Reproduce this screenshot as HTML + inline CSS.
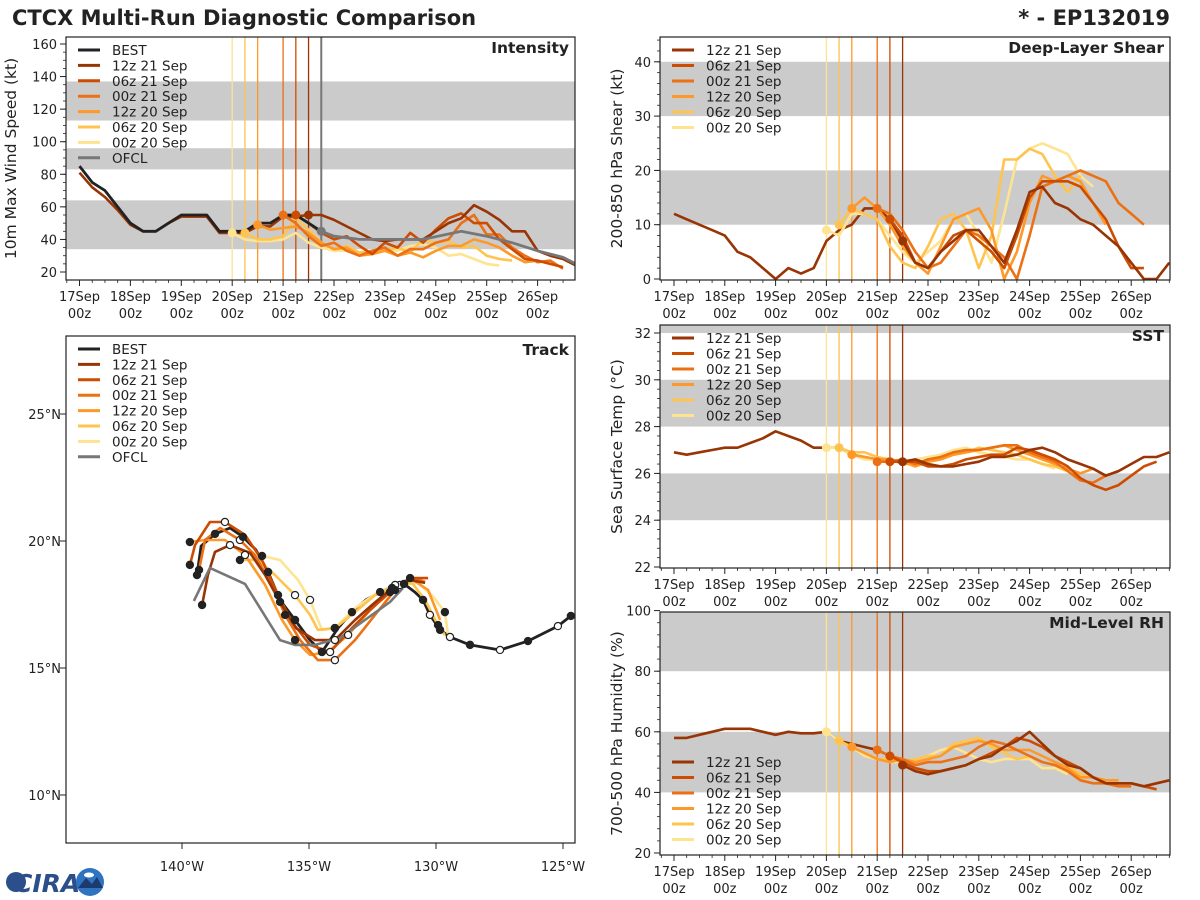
<!DOCTYPE html>
<html><head><meta charset="utf-8">
<style>
body{margin:0;background:#fff;width:1200px;height:900px;overflow:hidden;font-family:"Liberation Sans","DejaVu Sans",sans-serif;}
svg{position:absolute;left:0;top:0;}
text{font-family:"DejaVu Sans","Liberation Sans",sans-serif;fill:#222;}
</style></head>
<body>
<svg id="chart" width="1200" height="900" viewBox="0 0 1200 900"></svg>
<script>
// ---------- DATA ----------
const dayLabels=["17Sep","18Sep","19Sep","20Sep","21Sep","22Sep","23Sep","24Sep","25Sep","26Sep"];
const runNames=["12z 21 Sep","06z 21 Sep","00z 21 Sep","12z 20 Sep","06z 20 Sep","00z 20 Sep"];
const runColors=["#993404","#cc4c02","#ec7014","#fe9929","#fec44f","#fee391"];
const runStart=[18,17,16,14,13,12]; // 6-hourly index from 17Sep00z
const ofclIndex=19;
// Intensity (kt)
const bestVmax=[85,75,70,60,50,45,45,50,55,55,55,45,45,45,50,50,55,55,50,45];
const vmaxHist=[81,72,66,58,49,45,45,50,54,54,54,44,44,44,48,48,54,54,55];
const ofclVmaxIdx=[19,20,22,24,27,30,32,34,36,38,39];
const ofclVmax=[45,42,40,40,40,45,42,38,33,29,25];
const vmax12z21=[55,55,52,48,44,40,39,40,40,40,45,50,53,61,57,52,45,45,33,30,28,24];
const vmax06z21=[55,50,44,40,42,36,31,38,35,44,38,46,53,56,50,50,40,34,28,27,25,23];
const vmax00z21=[55,50,42,36,38,33,30,33,35,30,34,34,38,40,50,55,43,43,35,30,26,27,22];
const vmax12z20=[49,46,47,48,44,38,34,35,30,31,33,30,32,29,33,36,36,40,38,35,30,26,27,25];
const vmax06z20=[44,40,40,42,53,46,38,34,36,32,33,33,35,32,40,38,39,35,36,30,28,27];
const vmax00z20=[44,40,39,39,40,44,38,35,33,33,32,31,34,33,36,37,35,30,31,28,25,24];
// Shear (kt)
const shearHist=[12,11,10,9,8,5,4,2,0,2,1,2,7,9,10,13,13,11,7];
const shear12z21=[7,3,2,5,7,9,9,6,3,9,16,17,14,13,11,10,8,6,3,0,0,3];
const shear06z21=[11,8,3,2,5,8,9,7,5,2,8,15,18,18,18,17,14,11,6,2,2];
const shear00z21=[13,12,9,5,2,3,6,9,8,6,4,0,8,17,18,19,20,19,18,14,12,10];
const shear12z20=[13,15,13,10,6,3,1,6,11,12,13,9,0,5,14,19,18,19,18,14,10];
const shear06z20=[10,13,12,11,6,3,2,6,11,12,9,2,8,22,22,24,23,19,16,19];
const shear00z20=[9,8,12,12,11,8,5,3,5,7,11,12,8,3,12,22,24,25,24,23,19,17];
// SST (C)
const sstHist=[26.9,26.8,26.9,27.0,27.1,27.1,27.3,27.5,27.8,27.6,27.4,27.1,27.1,27.1,26.8,26.7,26.6,26.5,26.5];
const sst12z21=[26.5,26.6,26.4,26.3,26.3,26.4,26.5,26.7,26.7,26.8,27.0,27.1,26.9,26.6,26.4,26.2,25.9,26.1,26.4,26.7,26.7,26.9];
const sst06z21=[26.5,26.5,26.5,26.3,26.3,26.4,26.6,26.7,26.8,26.8,27.1,27.0,26.8,26.6,26.3,25.8,25.5,25.3,25.5,25.9,26.3,26.5];
const sst00z21=[26.5,26.5,26.6,26.4,26.6,26.7,26.9,27.0,27.0,27.1,27.2,27.2,26.9,26.7,26.5,26.1,25.7,25.6,25.9,26.1];
const sst12z20=[26.8,26.7,26.6,26.6,26.5,26.3,26.5,26.6,26.8,26.9,27.0,27.1,27.2,27.0,26.8,26.6,26.4,26.2,26.0,26.2];
const sst06z20=[27.1,26.9,26.9,26.7,26.6,26.4,26.4,26.5,26.6,26.8,26.9,27.1,27.0,26.9,26.8,26.6,26.4,26.3,26.1];
const sst00z20=[27.1,27.1,26.8,26.6,26.6,26.6,26.5,26.6,26.7,26.8,27.0,27.1,26.9,26.8,26.7,26.6,26.6,26.4,26.2];
// RH (%)
const rhHist=[58,58,59,60,61,61,61,60,59,60,59.5,59.5,60,57,56,55,54,52,49];
const rh12z21=[49,47,46,47,48,49,51,52,55,57,60,56,52,49,48,45,43,43,43,42,43,44];
const rh06z21=[52,50,48,47,47,48,49,51,53,55,58,57,55,52,50,48,45,43,43,43,42,41];
const rh00z21=[54,52,51,49,50,50,51,52,55,57,56,54,52,50,49,47,44,43,43,42,42];
const rh12z20=[55,53,51,50,51,50,51,52,55,56,57,56,54,54,54,52,50,48,45,45,44,44];
const rh06z20=[57,55,53,51,51,50,51,52,52,56,57,58,55,53,51,52,50,49,49,46,45];
const rh00z20=[60,57,55,52,51,50,50,51,52,54,55,53,51,50,51,51,51,48,48,46];
// Track (deg W, deg N)
const bestLon=[139.41,139.25,138.70,138.11,137.60,137.09,136.61,136.14,135.55,134.96,134.49,133.86,133.31,132.76,132.20,131.65,131.26,130.83,130.51,130.24,129.84,129.45,128.66,127.48,126.38,125.20,124.69];
const bestLat=[18.66,19.80,20.28,20.51,20.16,19.65,18.78,17.68,16.89,16.10,15.63,16.57,17.20,17.68,17.99,18.23,18.31,17.99,17.68,17.09,16.50,16.22,15.91,15.71,16.06,16.65,17.05];
const trk12z21Lon=[139.21,138.98,138.70,138.11,137.32,136.73,136.14,135.51,134.76,133.98,133.19,132.52,131.73,131.02,130.43];
const trk12z21Lat=[17.48,18.66,19.57,19.84,19.53,18.66,17.60,16.57,16.10,16.10,16.89,17.48,18.15,18.46,18.35];
const trk06z21Lon=[139.69,139.49,138.90,138.31,137.52,136.85,136.22,135.67,134.96,134.17,133.31,132.60,131.81,131.02,130.31];
const trk06z21Lat=[19.06,19.84,20.75,20.75,20.24,19.25,17.87,16.81,15.91,15.63,16.57,17.28,17.99,18.54,18.54];
const trk00z21Lon=[139.33,139.09,138.50,137.72,137.13,136.46,135.94,135.35,134.65,133.98,133.19,132.40,131.61,130.94,130.43];
const trk00z21Lat=[18.86,20.04,20.51,20.04,19.45,18.27,17.09,16.10,15.31,15.31,16.10,17.09,18.07,18.54,18.39];
const trk12z20Lon=[139.69,139.09,138.31,137.52,136.73,136.06,135.55,134.96,134.25,133.46,132.60,131.81,131.02,130.31,129.84];
const trk12z20Lat=[19.96,20.04,20.04,19.45,18.27,16.89,16.10,15.51,15.63,16.30,17.28,18.07,18.54,18.07,16.89];
const trk06z20Lon=[137.72,137.01,136.34,135.55,134.96,134.65,133.98,133.19,132.40,131.61,130.94,130.43,129.92,129.65];
const trk06z20Lat=[19.25,19.25,18.66,17.87,17.09,16.50,16.57,17.20,17.87,18.27,18.35,17.68,16.69,16.30];
const trk00z20Lon=[136.85,136.14,135.43,134.96,134.65,134.49,133.98,133.19,132.28,131.42,130.71,130.16,129.65,129.53];
const trk00z20Lat=[19.41,19.25,18.46,17.68,16.89,16.50,16.57,17.36,17.99,18.27,18.35,17.87,17.20,16.34];
const ofclLon=[139.53,138.90,137.52,136.14,135.55,134.76,133.78,132.80,131.81,131.30];
const ofclLat=[17.64,18.94,18.31,16.10,15.91,15.91,16.18,16.89,17.60,18.15];

// ---------- HELPERS ----------
const svg=document.getElementById('chart');
const NS='http://www.w3.org/2000/svg';
function mk(tag,attrs,parent){const e=document.createElementNS(NS,tag);for(const k in attrs)e.setAttribute(k,attrs[k]);(parent||svg).appendChild(e);return e;}
function txt(s,x,y,size,anchor,parent,weight){const t=mk('text',{x:x,y:y,'font-size':size,'text-anchor':anchor||'start','font-weight':weight||'normal'},parent);t.textContent=s;return t;}

function timePanel(cfg){
  const g=mk('g',{});
  
  
  const L=cfg.x0,R=cfg.x1,T=cfg.y0,B=cfg.y1;
  const xs=i=>cfg.tx0+i*cfg.dayW/4;
  const ys=v=>cfg.yRef-(v-cfg.vRef)*cfg.k;
  mk('rect',{x:L,y:T,width:R-L,height:B-T,fill:'#fff'},g);
  const cp='cp'+cfg.name;
  const cl=mk('clipPath',{id:cp},g);mk('rect',{x:L,y:T,width:R-L,height:B-T},cl);
  const inner=mk('g',{'clip-path':'url(#'+cp+')'},g);
  cfg.bands.forEach(b=>{const r=mk('rect',{x:L,y:ys(b[1]),width:R-L,height:ys(b[0])-ys(b[1]),fill:'#cbcbcb'},inner);
    
    });
  for(let r=5;r>=0;r--){const l=mk('line',{x1:xs(runStart[r]),x2:xs(runStart[r]),y1:T,y2:B,stroke:runColors[r],'stroke-width':1.3},inner);
    
    }
  if(cfg.ofclLine){const l=mk('line',{x1:xs(ofclIndex),x2:xs(ofclIndex),y1:T,y2:B,stroke:'#777','stroke-width':2},inner);
    
    }
  function poly(arr,start,color,name,w){const pts=arr.map((v,i)=>xs(start+i).toFixed(1)+','+ys(v).toFixed(1)).join(' ');
    const p=mk('polyline',{points:pts,fill:'none',stroke:color,'stroke-width':w||2.6,'stroke-linejoin':'round'},inner);
    
    return p;}
  if(cfg.hist) poly(cfg.hist,0,runColors[0],'history-line');
  for(let r=5;r>=0;r--){poly(cfg.series[r],runStart[r],runColors[r],'series-'+runNames[r].replace(/ /g,'-').toLowerCase());}
  if(cfg.best) poly(cfg.best,0,'#222','best-line',2.8);
  if(cfg.ofcl) {const pts=cfg.ofclIdx.map((t,i)=>xs(t).toFixed(1)+','+ys(cfg.ofcl[i]).toFixed(1)).join(' ');
    const p=mk('polyline',{points:pts,fill:'none',stroke:'#777','stroke-width':2.8},inner);
    
    
    const c=mk('circle',{cx:xs(cfg.ofclIdx[0]),cy:ys(cfg.ofcl[0]),r:4.5,fill:'#777'},inner);
    
    }
  for(let r=5;r>=0;r--){const c=mk('circle',{cx:xs(runStart[r]),cy:ys(cfg.series[r][0]),r:4.5,fill:runColors[r]},inner);
    
    }
  mk('rect',{x:L,y:T,width:R-L,height:B-T,fill:'none',stroke:'#222','stroke-width':1.2},g);
  for(let d=0;d<10;d++){const x=xs(d*4);mk('line',{x1:x,x2:x,y1:B,y2:B+6,stroke:'#222','stroke-width':1},g);
    const t1=txt(dayLabels[d],x,B+21,13,'middle',g);
    
    
    txt('00z',x,B+38,13,'middle',g);}
  for(let i=-1;i<40;i++){if(i%4===0)continue;const x=xs(i);if(x<L||x>R)continue;mk('line',{x1:x,x2:x,y1:B,y2:B+3,stroke:'#222','stroke-width':0.8},g);}
  cfg.yticks.forEach(v=>{const y=ys(v);mk('line',{x1:L-6,x2:L,y1:y,y2:y,stroke:'#222','stroke-width':1},g);
    const t=txt(String(v),L-9,y+5,13,'end',g);
    
    });
  for(let v=cfg.minorStart;v<=cfg.minorEnd;v+=cfg.minorStep){const y=ys(v);if(y<T||y>B)continue;mk('line',{x1:L-3,x2:L,y1:y,y2:y,stroke:'#222','stroke-width':0.8},g);}
  const yl=txt(cfg.ylabel,0,0,15.5,'middle',g);yl.setAttribute('transform','translate('+cfg.ylx+','+((T+B)/2)+') rotate(-90)');
  
  
  const ti=txt(cfg.title,R-6,T+16,15.5,'end',g,'bold');
  
  
  legend(g,L+12,cfg.legendY||(T+13),cfg.legendBest?['BEST'].concat(runNames,['OFCL']):runNames,cfg.legendBest?['#222'].concat(runColors,['#777']):runColors,cfg.lh);
}
function legend(g,x,y,names,colors,lh){
  const lg=mk('g',{},g);
  
  
  names.forEach((n,i)=>{const yy=y+i*lh;
    const e=mk('g',{},lg);
    
    
    mk('line',{x1:x,x2:x+22,y1:yy,y2:yy,stroke:colors[i],'stroke-width':3},e);
    txt(n,x+34,yy+5,13.5,'start',e);});
}
timePanel({name:'intensity-panel',x0:66,x1:575,y0:37,y1:280,tx0:79.5,dayW:50.9,yRef:272,vRef:20,k:1.6286,
  bands:[[34,64],[83,96],[113,137]],yticks:[20,40,60,80,100,120,140,160],minorStart:15,minorEnd:165,minorStep:5,
  ylabel:'10m Max Wind Speed (kt)',ylx:16,title:'Intensity',legendBest:true,lh:15.4,ofclLine:true,hist:vmaxHist,
  best:bestVmax,ofcl:ofclVmax,ofclIdx:ofclVmaxIdx,series:[vmax12z21,vmax06z21,vmax00z21,vmax12z20,vmax06z20,vmax00z20]});
timePanel({name:'shear-panel',x0:660,x1:1170,y0:37,y1:280,tx0:674,dayW:50.8,yRef:279,vRef:0,k:5.43,
  bands:[[10,20],[30,40]],yticks:[0,10,20,30,40],minorStart:0,minorEnd:45,minorStep:2,
  ylabel:'200-850 hPa Shear (kt)',ylx:622,title:'Deep-Layer Shear',lh:15.5,hist:shearHist,
  series:[shear12z21,shear06z21,shear00z21,shear12z20,shear06z20,shear00z20]});
timePanel({name:'sst-panel',x0:660,x1:1170,y0:325,y1:568,tx0:674,dayW:50.8,yRef:567,vRef:22,k:23.4,
  bands:[[24,26],[28,30],[32,33]],yticks:[22,24,26,28,30,32],minorStart:22,minorEnd:32.4,minorStep:0.4,
  ylabel:'Sea Surface Temp (°C)',ylx:622,title:'SST',lh:15.5,hist:sstHist,
  series:[sst12z21,sst06z21,sst00z21,sst12z20,sst06z20,sst00z20]});
timePanel({name:'rh-panel',x0:660,x1:1170,y0:612,y1:855,tx0:674,dayW:50.8,yRef:853,vRef:20,k:3.03,
  bands:[[40,60],[80,100]],yticks:[20,40,60,80,100],minorStart:20,minorEnd:100,minorStep:4,legendY:762,
  ylabel:'700-500 hPa Humidity (%)',ylx:622,title:'Mid-Level RH',lh:15.5,hist:rhHist,
  series:[rh12z21,rh06z21,rh00z21,rh12z20,rh06z20,rh00z20]});

// ---------- TRACK ----------
(function(){
  const g=mk('g',{});
  
  
  const L=66,R=575,T=336,B=843;
  const xs=lon=>182+(140-lon)*25.4, ys=lat=>541-(lat-20)*25.4;
  const cl=mk('clipPath',{id:'cptrk'},g);mk('rect',{x:L,y:T,width:R-L,height:B-T},cl);
  const inner=mk('g',{'clip-path':'url(#cptrk)'},g);
  function path(lon,lat,color,name,w){const p=mk('polyline',{points:lon.map((v,i)=>xs(v).toFixed(1)+','+ys(lat[i]).toFixed(1)).join(' '),fill:'none',stroke:color,'stroke-width':w||2.6,'stroke-linejoin':'round'},inner);
    
    }
  path(bestLon,bestLat,'#222','best-track',2.8);
  const trks=[[trk12z21Lon,trk12z21Lat],[trk06z21Lon,trk06z21Lat],[trk00z21Lon,trk00z21Lat],[trk12z20Lon,trk12z20Lat],[trk06z20Lon,trk06z20Lat],[trk00z20Lon,trk00z20Lat]];
  for(let r=5;r>=0;r--) path(trks[r][0],trks[r][1],runColors[r],'track-'+runNames[r].replace(/ /g,'-').toLowerCase());
  path(ofclLon,ofclLat,'#777','ofcl-track');
  for(let r=5;r>=0;r--){trks[r][0].forEach((lon,i)=>{if(i%3!==0)return;
    const c=mk('circle',{cx:xs(lon),cy:ys(trks[r][1][i]),r:3.6,fill:(i%6===0)?'#222':'#fff',stroke:'#222','stroke-width':1.2},inner);
    
    });}
  bestLon.forEach((lon,i)=>{if(i<19&&i%2)return;
    const c=mk('circle',{cx:xs(lon),cy:ys(bestLat[i]),r:3.6,fill:(i%2===0)?'#222':'#fff',stroke:'#222','stroke-width':1.2},inner);
    
    });
  mk('rect',{x:L,y:T,width:R-L,height:B-T,fill:'none',stroke:'#222','stroke-width':1.2},g);
  const lonT=[140,135,130,125],latT=[25,20,15,10];
  lonT.forEach(v=>{const x=xs(v);mk('line',{x1:x,x2:x,y1:B,y2:B+6,stroke:'#222'},g);
    const t=txt(v+'°W',x,B+28,13,'middle',g);
    
    });
  latT.forEach(v=>{const y=ys(v);mk('line',{x1:L-6,x2:L,y1:y,y2:y,stroke:'#222'},g);
    const t=txt(v+'°N',L-5,y+5,13,'end',g);
    
    });
  const ti=txt('Track',R-6,T+19,15.5,'end',g,'bold');
  
  
  legend(g,L+12,T+13,['BEST'].concat(runNames,['OFCL']),['#222'].concat(runColors,['#777']),15.4);
})();

// ---------- TITLES ----------
const t1=txt('CTCX Multi-Run Diagnostic Comparison',12,25,21,'start',svg,'bold');


const t2=txt('* - EP132019',1170,25,21,'end',svg,'bold');


const lg=mk('g',{});


mk('circle',{cx:16,cy:882,r:10,fill:'#2b4f8a'},lg);
const ct=txt('CIRA',14,892,25,'start',lg,'bold');ct.setAttribute('style','fill:#2b4f8a;font-style:italic');
mk('circle',{cx:90,cy:882,r:14,fill:'#2f74c0'},lg);
mk('path',{d:'M78,888 L86,878 L92,884 L97,877 L103,888 Z',fill:'#1d3a6e'},lg);
mk('ellipse',{cx:89,cy:875,rx:5,ry:2.5,fill:'#fff'},lg);
</script>
</body></html>
